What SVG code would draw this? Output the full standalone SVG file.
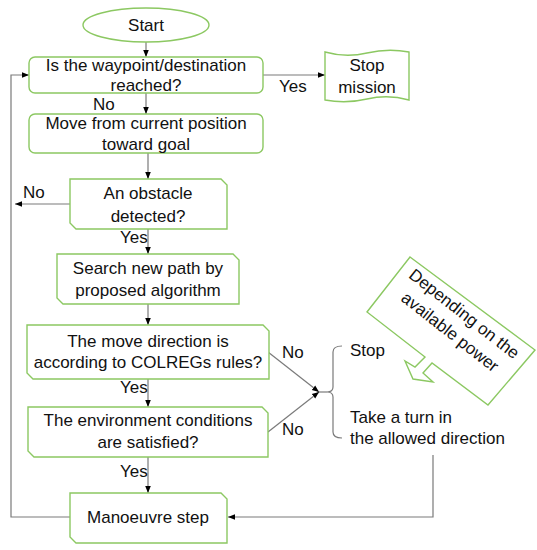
<svg xmlns="http://www.w3.org/2000/svg" width="537" height="550" viewBox="0 0 537 550">
<defs>
<marker id="ah" viewBox="0 0 10 10" refX="10" refY="5" markerWidth="7" markerHeight="7" markerUnits="userSpaceOnUse" orient="auto">
<path d="M0,1 L10,5 L0,9 Z" fill="#000"/>
</marker>
<style>
.n{fill:#fff;stroke:#8cc862;stroke-width:1.4}
.t{font-family:"Liberation Sans",Arial,sans-serif;font-size:17px;fill:#111;text-anchor:middle}
.l{font-family:"Liberation Sans",Arial,sans-serif;font-size:17px;fill:#111}
.c{fill:none;stroke:#7a7a7a;stroke-width:1.2}
.a{marker-end:url(#ah)}
</style>
</defs>
<rect width="537" height="550" fill="#fff"/>
<g id="connectors">
<line class="c a" x1="146" y1="42" x2="146" y2="57"/>
<line class="c a" x1="263" y1="75" x2="325" y2="75"/>
<line class="c a" x1="146" y1="93" x2="146" y2="114"/>
<line class="c a" x1="148" y1="153" x2="148" y2="179"/>
<line class="c a" x1="70" y1="204" x2="15" y2="204"/>
<line class="c a" x1="148" y1="229" x2="148" y2="254"/>
<line class="c a" x1="148" y1="304" x2="148" y2="325"/>
<line class="c a" x1="148" y1="379" x2="148" y2="407"/>
<line class="c a" x1="148" y1="457" x2="148" y2="493"/>
<polyline class="c a" points="70,517 11,517 11,75 29,75"/>
<line class="c a" x1="268" y1="352" x2="319" y2="392"/>
<line class="c a" x1="268" y1="432" x2="319" y2="392"/>
<line class="c" x1="319" y1="392" x2="327" y2="392"/>
<path class="c" d="M342,346 Q333,346 333,352 L333,387 Q333,392 327,392 Q333,392 333,397 L333,432 Q333,438 342,438"/>
<polyline class="c a" points="433,455 433,517 228,517"/>
</g>
<g id="start">
<ellipse class="n" cx="146" cy="25" rx="63" ry="17"/>
<text class="t" x="146" y="31">Start</text>
</g>
<g id="reached">
<rect class="n" x="29" y="57" width="234" height="36" rx="6"/>
<text class="t" x="146" y="71">Is the waypoint/destination</text>
<text class="t" x="146" y="91">reached?</text>
</g>
<g id="stop-mission">
<path class="n" d="M325,52 Q346,58 367,53 T409,52 L409,100 Q388,94 367,99 T325,100 Z"/>
<text class="t" x="367" y="71">Stop</text>
<text class="t" x="367" y="93">mission</text>
</g>
<g id="move">
<rect class="n" x="29" y="114" width="234" height="39" rx="6"/>
<text class="t" x="146" y="129">Move from current position</text>
<text class="t" x="146" y="150">toward goal</text>
</g>
<g id="obstacle">
<path class="n" d="M70,179 L221,179 L227,185 L227,229 L76,229 L70,223 Z"/>
<text class="t" x="148" y="199">An obstacle</text>
<text class="t" x="148" y="222">detected?</text>
</g>
<g id="search">
<path class="n" d="M57,254 L233,254 L239,260 L239,304 L63,304 L57,298 Z"/>
<text class="t" x="148" y="274">Search new path by</text>
<text class="t" x="148" y="296">proposed algorithm</text>
</g>
<g id="colregs">
<path class="n" d="M27,325 L263,325 L269,331 L269,379 L33,379 L27,373 Z"/>
<text class="t" x="148" y="347">The move direction is</text>
<text class="t" x="148" y="368">according to COLREGs rules?</text>
</g>
<g id="environment">
<path class="n" d="M28,407 L262,407 L268,413 L268,457 L34,457 L28,451 Z"/>
<text class="t" x="148" y="426">The environment conditions</text>
<text class="t" x="148" y="448">are satisfied?</text>
</g>
<g id="manoeuvre">
<path class="n" d="M70,493 L221,493 L227,499 L227,543 L76,543 L70,537 Z"/>
<text class="t" x="148" y="523">Manoeuvre step</text>
</g>
<g id="labels">
<text class="l" x="279" y="92">Yes</text>
<text class="l" x="93" y="110">No</text>
<text class="l" x="23" y="198">No</text>
<text class="l" x="120" y="243">Yes</text>
<text class="l" x="120" y="393">Yes</text>
<text class="l" x="120" y="477">Yes</text>
<text class="l" x="282" y="358">No</text>
<text class="l" x="282" y="435">No</text>
</g>
<g id="options">
<text class="l" x="350" y="356">Stop</text>
<text class="l" x="350" y="423">Take a turn in</text>
<text class="l" x="350" y="444">the allowed direction</text>
</g>
<g id="callout">
<polygon class="n" points="410,257 535,350 488,405 432,363 423,373 433,382 413,379 405,361 415,367 425,357 367,312"/>
<g transform="translate(457,323) rotate(38)">
<text class="t" x="0" y="-6">Depending on the</text>
<text class="t" x="0" y="17">available power</text>
</g>
</g>
</svg>
